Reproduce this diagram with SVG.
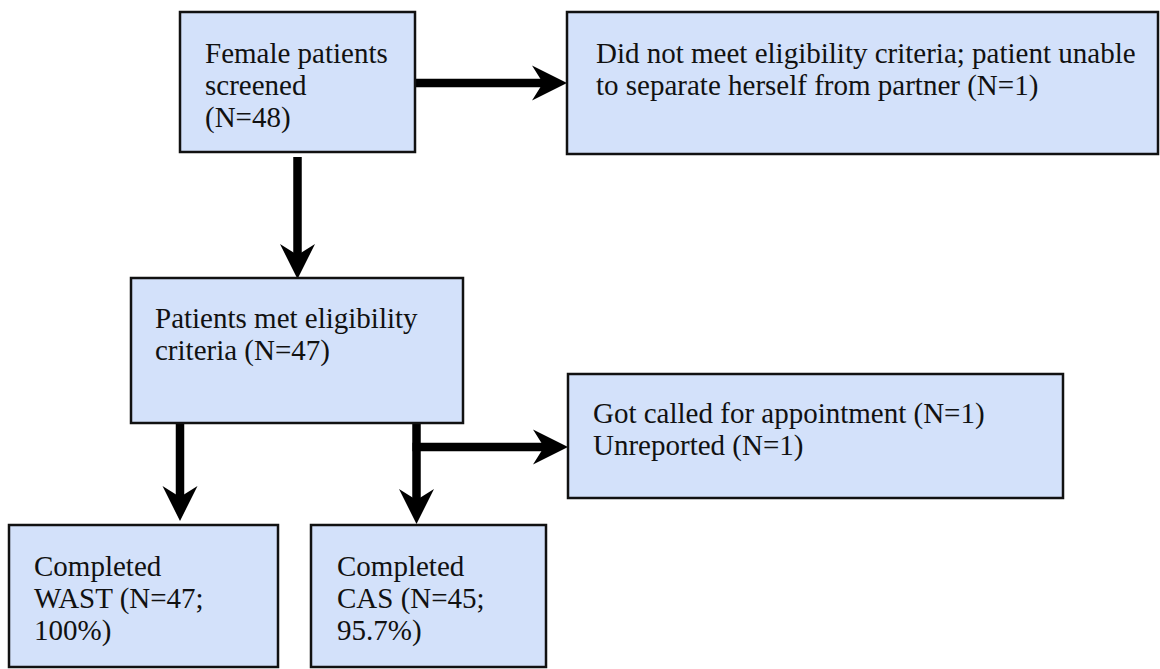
<svg xmlns="http://www.w3.org/2000/svg" width="1160" height="669" viewBox="0 0 1160 669">
  <style>
    .box { fill: #D3E1FA; stroke: #111111; stroke-width: 2.5; }
    .lbl { font-family: 'Liberation Serif', 'Tinos', 'DejaVu Serif', 'Noto Serif', serif; font-size: 29px; fill: #111111; }
    .wire { fill: none; stroke: #000000; stroke-width: 8.5; }
    .head { fill: #000000; }
  </style>

  <g id="connectors">
    <line class="wire" x1="415" y1="83" x2="543" y2="83"/>
    <polygon class="head" points="567,83 532,65.5 543,83 532,100.5"/>
    <line class="wire" x1="297.5" y1="157" x2="297.5" y2="255"/>
    <polygon class="head" points="297.5,279 280,244 297.5,255 315,244"/>
    <line class="wire" x1="180" y1="422" x2="180" y2="497"/>
    <polygon class="head" points="180,521 162.5,486 180,497 197.5,486"/>
    <line class="wire" x1="416.5" y1="423" x2="416.5" y2="500"/>
    <polygon class="head" points="416.5,524 399,489 416.5,500 434,489"/>
    <line class="wire" x1="412.5" y1="447" x2="544" y2="447"/>
    <polygon class="head" points="568,447 533,429.5 544,447 533,464.5"/>
  </g>

  <g id="screened">
    <rect class="box" x="180" y="12" width="235" height="140"/>
    <text class="lbl" x="205" y="63">Female patients</text>
    <text class="lbl" x="205" y="95">screened</text>
    <text class="lbl" x="205" y="127">(N=48)</text>
  </g>

  <g id="excluded">
    <rect class="box" x="567" y="12" width="591" height="142"/>
    <text class="lbl" x="596" y="63">Did not meet eligibility criteria; patient unable</text>
    <text class="lbl" x="596" y="95">to separate herself from partner (N=1)</text>
  </g>

  <g id="eligible">
    <rect class="box" x="131" y="278" width="332" height="145"/>
    <text class="lbl" x="155" y="328">Patients met eligibility</text>
    <text class="lbl" x="155" y="360">criteria (N=47)</text>
  </g>

  <g id="lost">
    <rect class="box" x="568" y="374" width="495" height="124"/>
    <text class="lbl" x="593" y="423">Got called for appointment (N=1)</text>
    <text class="lbl" x="593" y="455">Unreported (N=1)</text>
  </g>

  <g id="wast">
    <rect class="box" x="9" y="525" width="269" height="142"/>
    <text class="lbl" x="34" y="576">Completed</text>
    <text class="lbl" x="34" y="608">WAST (N=47;</text>
    <text class="lbl" x="34" y="640">100%)</text>
  </g>

  <g id="cas">
    <rect class="box" x="311" y="525" width="235" height="142"/>
    <text class="lbl" x="337" y="576">Completed</text>
    <text class="lbl" x="337" y="608">CAS (N=45;</text>
    <text class="lbl" x="337" y="640">95.7%)</text>
  </g>
</svg>
